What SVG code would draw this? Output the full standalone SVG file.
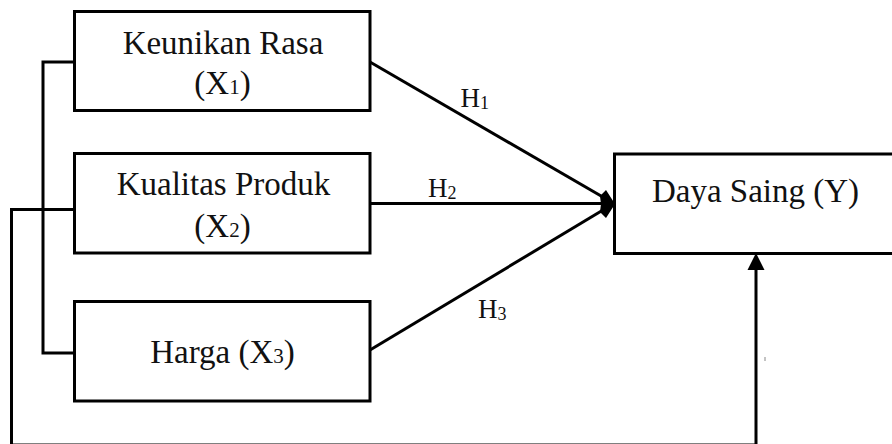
<svg xmlns="http://www.w3.org/2000/svg" width="892" height="444" viewBox="0 0 892 444">
<style>
.box{fill:#fff;stroke:#000;stroke-width:3}
.conn{fill:none;stroke:#000;stroke-width:3}
.t{font-family:"Liberation Serif","DejaVu Serif",serif;font-size:33px;fill:#111;text-anchor:middle}
.h{font-family:"Liberation Serif","DejaVu Serif",serif;font-size:27px;fill:#111}
.sub{font-size:21px}
.hs{font-size:18px}
</style>
<rect width="892" height="444" fill="#fff"/>
<g id="connectors">
<path class="conn" d="M74,62 H43 V353 H74"/>
<path class="conn" d="M74,209.5 H11.5 V445 H756 V268"/>
<line class="conn" x1="370" y1="62" x2="608" y2="200"/>
<line class="conn" x1="370" y1="203.5" x2="606" y2="203.5"/>
<line class="conn" x1="370" y1="350" x2="608" y2="207"/>
<polygon points="615,204 606,190 600,196 601,204 600,212 606,218" fill="#000"/>
<polygon points="756,253 764.5,270 747.5,270" fill="#000"/>
<line x1="765" y1="357" x2="765" y2="361" stroke="#888" stroke-width="1"/>
<text class="h" x="460.5" y="107">H<tspan class="hs" dy="2">1</tspan></text>
<text class="h" x="428" y="197">H<tspan class="hs" dy="2">2</tspan></text>
<text class="h" x="478" y="318">H<tspan class="hs" dy="2">3</tspan></text>
</g>
<g id="node-x1">
<rect class="box" x="74.5" y="11.5" width="295.5" height="99"/>
<text class="t" x="223" y="54">Keunikan Rasa</text>
<text class="t" x="222.5" y="94">(X<tspan class="sub">1</tspan>)</text>
</g>
<g id="node-x2">
<rect class="box" x="74.5" y="153.5" width="295.5" height="99.5"/>
<text class="t" x="223.5" y="195">Kualitas Produk</text>
<text class="t" x="222.5" y="237">(X<tspan class="sub">2</tspan>)</text>
</g>
<g id="node-x3">
<rect class="box" x="74.5" y="301.5" width="295.5" height="99.5"/>
<text class="t" x="222.5" y="363">Harga (X<tspan class="sub">3</tspan>)</text>
</g>
<g id="node-y">
<rect class="box" x="614.5" y="154" width="290" height="99.5"/>
<text class="t" x="755.5" y="202">Daya Saing (Y)</text>
</g>
</svg>
